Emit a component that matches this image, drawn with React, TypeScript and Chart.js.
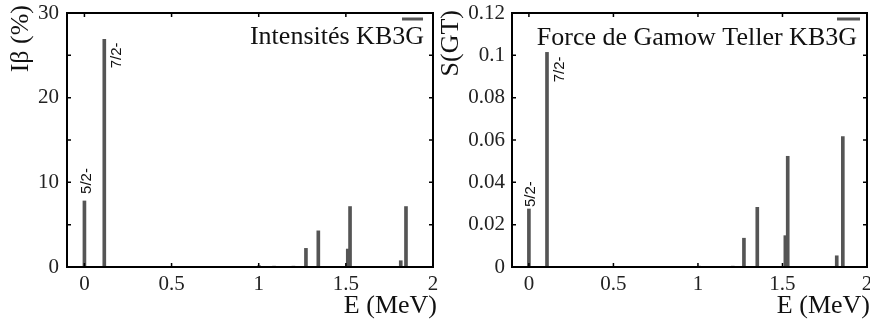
import React, { useEffect, useRef } from 'react';
import { Chart, registerables } from 'chart.js';

Chart.register(...registerables);

// ---- Data ----
const energyIntensity = [0, 0.114, 1.002, 1.088, 1.199, 1.271, 1.342, 1.511, 1.524, 1.815, 1.845];
const intensityPercent = [7.8, 26.9, 0.15, 0.1, 0.1, 2.2, 4.27, 2.12, 7.14, 0.74, 7.14];

const energyGT = [0, 0.107, 1.006, 1.091, 1.206, 1.272, 1.351, 1.517, 1.531, 1.821, 1.857];
const strengthGT = [0.0274, 0.1014, 0.0004, 0.0003, 0.0004, 0.0136, 0.0282, 0.0148, 0.0523, 0.0053, 0.0616];

const xTickValues = [0, 0.5, 1, 1.5, 2];
const intensityTickValues = [0, 10, 20, 30];
const intensityMinorTicks = [0, 5, 10, 15, 20, 25, 30];
const gtTickValues = [0, 0.02, 0.04, 0.06, 0.08, 0.1, 0.12];

const spinLabels = ['5/2-', '7/2-'];
const legendIntensity = 'Intensités KB3G';
const legendGT = 'Force de Gamow Teller KB3G';
const yTitleIntensity = 'Iβ (%)';
const yTitleGT = 'S(GT)';
const xTitle = 'E (MeV)';

const SERIF = '"Liberation Serif", "Times New Roman", serif';
const SANS = '"Liberation Sans", Arial, sans-serif';
const HEIGHT = 327;
const BOTTOM = 267;
const TOP = 13;

type PanelProps = {
  left: number;
  width: number;
  xs: number[];
  ys: number[];
  yMax: number;
  yTicks: number[];
  yMarks: number[];
  yTitle: string;
  yTitleX: number;
  yTitleEnd: number;
  yAxisWidth: number;
  yLabelPad: number;
  rightPad: number;
  xTitleOffset: number;
  legend: string;
  legendTextOffset: number;
  legendBaseline: number;
  legendLine: [number, number];
  labelOffsets: [number, number][];
};

function Panel(p: PanelProps) {
  const ref = useRef<HTMLCanvasElement | null>(null);

  useEffect(() => {
    if (!ref.current) return;
    const deco = {
      id: 'deco',
      afterDatasetsDraw(chart: any) {
        const { ctx, chartArea: a, scales } = chart;
        const xs = scales.x;
        const ys = scales.y;
        ctx.save();
        // frame
        ctx.strokeStyle = '#000';
        ctx.lineWidth = 2;
        ctx.strokeRect(a.left, a.top, a.right - a.left, a.bottom - a.top);
        // inward tick marks
        ctx.lineWidth = 1.5;
        ctx.beginPath();
        for (const v of xTickValues) {
          const px = xs.getPixelForValue(v);
          ctx.moveTo(px, a.bottom);
          ctx.lineTo(px, a.bottom - 4);
          ctx.moveTo(px, a.top);
          ctx.lineTo(px, a.top + 4);
        }
        for (const v of p.yMarks) {
          const py = ys.getPixelForValue(v);
          ctx.moveTo(a.left, py);
          ctx.lineTo(a.left + 4, py);
          ctx.moveTo(a.right, py);
          ctx.lineTo(a.right - 4, py);
        }
        ctx.stroke();
        // legend
        ctx.strokeStyle = '#555';
        ctx.lineWidth = 3;
        ctx.beginPath();
        ctx.moveTo(a.right + p.legendLine[0], a.top + 6);
        ctx.lineTo(a.right + p.legendLine[1], a.top + 6);
        ctx.stroke();
        ctx.fillStyle = '#111';
        ctx.font = `26px ${SERIF}`;
        ctx.textAlign = 'right';
        ctx.textBaseline = 'alphabetic';
        ctx.fillText(p.legend, a.right + p.legendTextOffset, a.top + p.legendBaseline);
        // axis titles
        ctx.fillText(xTitle, a.right + p.xTitleOffset, 313);
        ctx.save();
        ctx.translate(p.yTitleX, p.yTitleEnd);
        ctx.rotate(-Math.PI / 2);
        ctx.textAlign = 'right';
        ctx.textBaseline = 'middle';
        ctx.fillText(p.yTitle, 0, 0);
        ctx.restore();
        // spin labels
        ctx.fillStyle = '#111';
        ctx.font = `15px ${SANS}`;
        ctx.textAlign = 'left';
        ctx.textBaseline = 'middle';
        spinLabels.forEach((lab, i) => {
          const px = xs.getPixelForValue(p.xs[i]) + p.labelOffsets[i][0];
          const py = ys.getPixelForValue(p.ys[i]) + p.labelOffsets[i][1];
          ctx.save();
          ctx.translate(px, py);
          ctx.rotate(-Math.PI / 2);
          ctx.fillText(lab, 0, 0);
          ctx.restore();
        });
        ctx.restore();
      },
    };

    const chart = new Chart(ref.current, {
      type: 'bar',
      data: {
        datasets: [
          {
            data: p.xs.map((x, i) => ({ x, y: p.ys[i] })),
            backgroundColor: '#555',
            borderWidth: 0,
            barThickness: 3,
          } as any,
        ],
      },
      options: {
        responsive: false,
        animation: false,
        devicePixelRatio: 1,
        layout: { padding: { top: TOP, right: p.rightPad, left: 0, bottom: 0 } },
        plugins: { legend: { display: false }, tooltip: { enabled: false } },
        scales: {
          x: {
            type: 'linear',
            min: -0.1,
            max: 2,
            offset: false,
            grid: { display: false, drawTicks: false },
            border: { display: false },
            afterBuildTicks: (s: any) => {
              s.ticks = xTickValues.map((v) => ({ value: v }));
            },
            afterFit: (s: any) => {
              s.height = HEIGHT - BOTTOM;
              s.paddingLeft = 0;
              s.paddingRight = 0;
              s.paddingTop = 0;
              s.paddingBottom = 0;
            },
            ticks: {
              padding: 5,
              color: '#222',
              font: { family: SERIF, size: 21 },
              maxRotation: 0,
              callback: (v: any) => String(v),
            },
          },
          y: {
            type: 'linear',
            min: 0,
            max: p.yMax,
            grid: { display: false, drawTicks: false },
            border: { display: false },
            afterBuildTicks: (s: any) => {
              s.ticks = p.yTicks.map((v) => ({ value: v }));
            },
            afterFit: (s: any) => {
              s.width = p.yAxisWidth;
              s.paddingLeft = 0;
              s.paddingRight = 0;
              s.paddingTop = 0;
              s.paddingBottom = 0;
            },
            ticks: {
              padding: p.yLabelPad,
              color: '#222',
              font: { family: SERIF, size: 21 },
              callback: (v: any) => String(v),
            },
          },
        },
      } as any,
      plugins: [deco],
    });
    return () => chart.destroy();
  }, []);

  return (
    <canvas
      ref={ref}
      width={p.width}
      height={HEIGHT}
      style={{ position: 'absolute', left: p.left, top: 0, width: p.width, height: HEIGHT }}
    />
  );
}

export default function App() {
  return (
    <div
      style={{
        position: 'fixed',
        left: 0,
        top: 0,
        width: 870,
        height: HEIGHT,
        background: '#fff',
        overflow: 'hidden',
      }}
    >
      <Panel
        left={0}
        width={438}
        xs={energyIntensity}
        ys={intensityPercent}
        yMax={30}
        yTicks={intensityTickValues}
        yMarks={intensityMinorTicks}
        yTitle={yTitleIntensity}
        yTitleX={21}
        yTitleEnd={5}
        yAxisWidth={67}
        yLabelPad={8}
        rightPad={5}
        xTitleOffset={4}
        legend={legendIntensity}
        legendTextOffset={-9}
        legendBaseline={31}
        legendLine={[-31, -10]}
        labelOffsets={[
          [2, -7],
          [13, 29],
        ]}
      />
      <Panel
        left={438}
        width={432}
        xs={energyGT}
        ys={strengthGT}
        yMax={0.12}
        yTicks={gtTickValues}
        yMarks={gtTickValues}
        yTitle={yTitleGT}
        yTitleX={13}
        yTitleEnd={10}
        yAxisWidth={74}
        yLabelPad={7}
        rightPad={3}
        xTitleOffset={3}
        legend={legendGT}
        legendTextOffset={-10}
        legendBaseline={32}
        legendLine={[-30, -7]}
        labelOffsets={[
          [2, -2],
          [13, 30],
        ]}
      />
    </div>
  );
}
